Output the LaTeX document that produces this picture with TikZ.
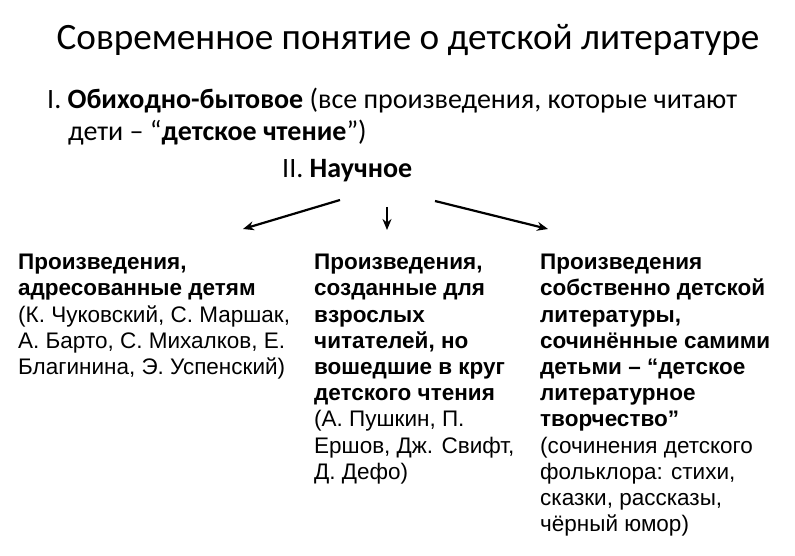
\documentclass[tikz,border=0pt]{standalone}
\usepackage{fontspec}
\usetikzlibrary{arrows.meta}
\setmainfont{Liberation Sans}
\newfontfamily\calib{Carlito}
\begin{document}
\begin{tikzpicture}[x=1pt,y=-1pt,
  col/.style={anchor=north west,align=left,inner sep=0pt,font=\fontsize{22.5}{26.2}\selectfont},
  hd/.style={anchor=west,inner sep=0pt,font=\calib\fontsize{28}{32}\selectfont},
  arr/.style={-{Stealth[length=11pt,width=9pt]},line width=2.2pt}]
\useasboundingbox (0,0) rectangle (795,556);
\node[font=\calib\fontsize{37.2}{42}\selectfont] (title) at (408,40) {Современное понятие о детской литературе};
\node[hd] (l1) at (47,101) {I. \textbf{Обиходно-бытовое} (все произведения, которые читают};
\node[hd] (l2) at (68,133) {дети – “\textbf{детское чтение}”)};
\node[hd] (l3) at (282,171) {II. \textbf{Научное}};
\coordinate (s1) at (340,200); \coordinate (e1) at (243,229);
\coordinate (s2) at (387,207); \coordinate (e2) at (387,230);
\coordinate (s3) at (435,201); \coordinate (e3) at (548,229);
\draw[arr] (s1) -- (e1);
\draw[arr] (s2) -- (e2);
\draw[arr] (s3) -- (e3);
\node[col] (c1) at (18,254) {\textbf{Произведения,}\\\textbf{адресованные детям}\\(К. Чуковский, С. Маршак,\\А. Барто, С. Михалков, Е.\\Благинина, Э. Успенский)};
\node[col] (c2) at (314,254) {\textbf{Произведения,}\\\textbf{созданные для}\\\textbf{взрослых}\\\textbf{читателей, но}\\\textbf{вошедшие в круг}\\\textbf{детского чтения}\\(А. Пушкин, П.\\Ершов, Дж. Свифт,\\Д. Дефо)};
\node[col] (c3) at (540,254) {\textbf{Произведения}\\\textbf{собственно детской}\\\textbf{литературы,}\\\textbf{сочинённые самими}\\\textbf{детьми – “детское}\\\textbf{литературное}\\\textbf{творчество”}\\(сочинения детского\\фольклора: стихи,\\сказки, рассказы,\\чёрный юмор)};
\end{tikzpicture}
\end{document}
